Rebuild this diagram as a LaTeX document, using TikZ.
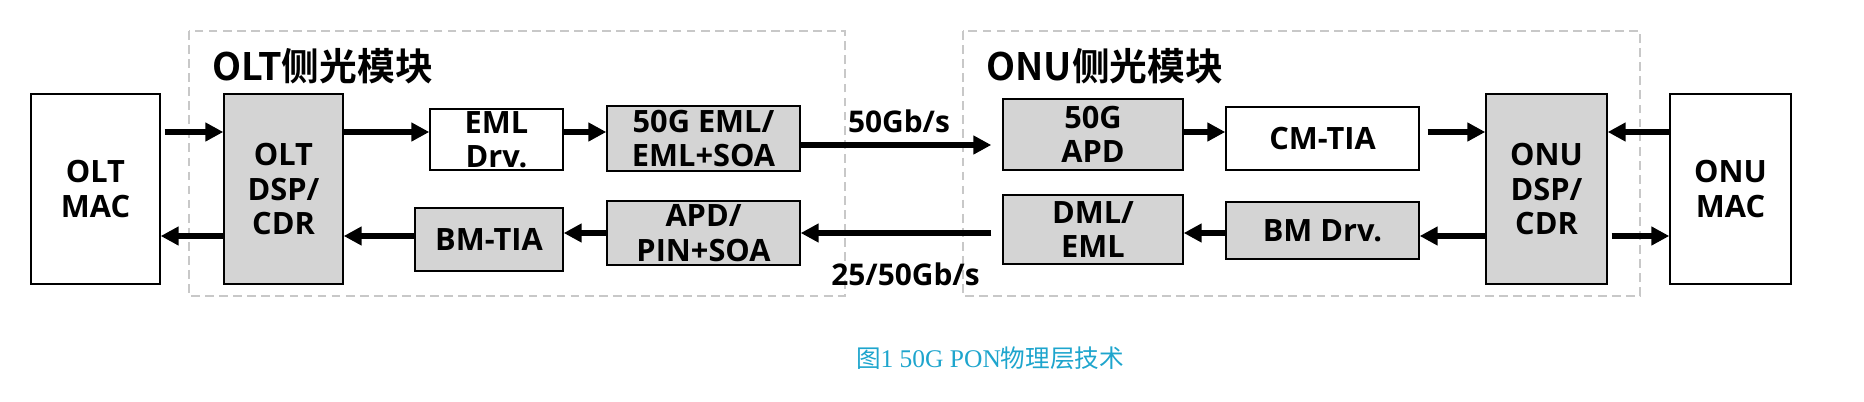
\documentclass[tikz,border=0pt]{standalone}
\usepackage{fontspec}
\setmainfont{Open Sans}
\newfontfamily\cjk{Noto Sans CJK SC}[BoldFont={Noto Sans CJK SC Bold}]
\newfontfamily\capserif{Liberation Serif}
\usetikzlibrary{positioning,arrows.meta,calc}
\definecolor{capblue}{RGB}{30,165,205}
\definecolor{boxgrey}{RGB}{212,212,212}
\definecolor{dashgrey}{RGB}{200,200,200}

\begin{document}
\begin{tikzpicture}[
    box/.style={draw, line width=0.8pt, align=center, inner xsep=2pt, inner ysep=0pt,
                font=\bfseries\fontsize{17.5}{19.5}\selectfont},
    grey/.style={box, fill=boxgrey},
    module/.style={draw=dashgrey, line width=1.3pt, dash pattern=on 5pt off 3pt},
    arr/.style={-{Triangle[length=0.36cm, width=0.36cm]}, line width=3pt},
    rate/.style={font=\bfseries\fontsize{17}{19.5}\selectfont, inner sep=0pt}
  ]
    \useasboundingbox (0,0) rectangle (37.28,-8.02);
    % dashed optical modules
    \draw[module] (3.78,-0.62) rectangle (16.9,-5.92);
    \draw[module] (19.26,-0.62) rectangle (32.8,-5.92);
    \node[anchor=west, inner sep=0pt, font=\cjk\bfseries\fontsize{21.5}{24}\selectfont]
      (oltmod) at (4.24,-1.32) {OLT侧光模块};
    \node[anchor=west, inner sep=0pt, font=\cjk\bfseries\fontsize{21.5}{24}\selectfont]
      (onumod) at (19.72,-1.32) {ONU侧光模块};

    % OLT side
    \node[box, minimum width=2.58cm, minimum height=3.8cm] (oltmac) at (1.91,-3.78) {OLT\\MAC};
    \node[grey, minimum width=2.38cm, minimum height=3.8cm] (oltdsp) at (5.67,-3.78) {OLT\\DSP/\\CDR};
    \node[box, minimum width=2.66cm, minimum height=1.22cm] (emldrv) at (9.93,-2.79) {EML\\Drv.};
    \node[grey, minimum width=2.96cm, minimum height=1.26cm] (bmtia) at (9.78,-4.79) {BM-TIA};
    \node[grey, minimum width=3.86cm, minimum height=1.30cm] (eml) at (14.07,-2.77) {50G EML/\\EML+SOA};
    \node[grey, minimum width=3.86cm, minimum height=1.28cm] (apdpin) at (14.07,-4.66) {APD/\\PIN+SOA};

    % ONU side
    \node[grey, minimum width=3.6cm, minimum height=1.42cm] (apd) at (21.86,-2.69) {50G\\APD};
    \node[grey, minimum width=3.6cm, minimum height=1.38cm] (dml) at (21.86,-4.59) {DML/\\EML};
    \node[box, minimum width=3.86cm, minimum height=1.26cm] (cmtia) at (26.45,-2.77) {CM-TIA};
    \node[grey, minimum width=3.86cm, minimum height=1.14cm] (bmdrv) at (26.45,-4.61) {BM Drv.};
    \node[grey, minimum width=2.42cm, minimum height=3.8cm] (onudsp) at (30.93,-3.78) {ONU\\DSP/\\CDR};
    \node[box, minimum width=2.42cm, minimum height=3.8cm] (onumac) at (34.61,-3.78) {ONU\\MAC};

    % rows of the links
    \coordinate (up) at (0,-2.64);
    \coordinate (fibup) at (0,-2.9);
    \coordinate (fibdn) at (0,-4.66);
    \coordinate (dn) at (0,-4.72);

    % downstream
    \draw[arr, shorten <=0.08cm] (oltmac.east |- up) -- (oltdsp.west |- up);
    \draw[arr] (oltdsp.east |- up) -- (emldrv.west |- up);
    \draw[arr] (emldrv.east |- up) -- (eml.west |- up);
    \draw[arr, shorten >=0.22cm] (eml.east |- fibup) -- (apd.west |- fibup);
    \draw[arr] (apd.east |- up) -- (cmtia.west |- up);
    \draw[arr, shorten <=0.16cm] (cmtia.east |- up) -- (onudsp.west |- up);
    \draw[arr] (onumac.west |- up) -- (onudsp.east |- up);
    % upstream
    \draw[arr, shorten <=0.08cm] (onudsp.east |- dn) -- (onumac.west |- dn);
    \draw[arr] (onudsp.west |- dn) -- (bmdrv.east |- dn);
    \draw[arr] (bmdrv.west |- fibdn) -- (dml.east |- fibdn);
    \draw[arr, shorten <=0.22cm] (dml.west |- fibdn) -- (apdpin.east |- fibdn);
    \draw[arr] (apdpin.west |- fibdn) -- (bmtia.east |- fibdn);
    \draw[arr] (bmtia.west |- dn) -- (oltdsp.east |- dn);
    \draw[arr] (oltdsp.west |- dn) -- (oltmac.east |- dn);

    \node[rate] (rateup) at (17.98,-2.42) {50Gb/s};
    \node[rate] (ratedn) at (18.11,-5.48) {25/50Gb/s};

    \node[text=capblue, inner sep=0pt] (caption) at (19.8,-7.16)
      {{\cjk\fontsize{14}{16}\selectfont 图}{\capserif\fontsize{14.5}{16}\selectfont 1 50G PON}{\cjk\fontsize{14}{16}\selectfont 物理层技术}};
  \end{tikzpicture}
\end{document}
